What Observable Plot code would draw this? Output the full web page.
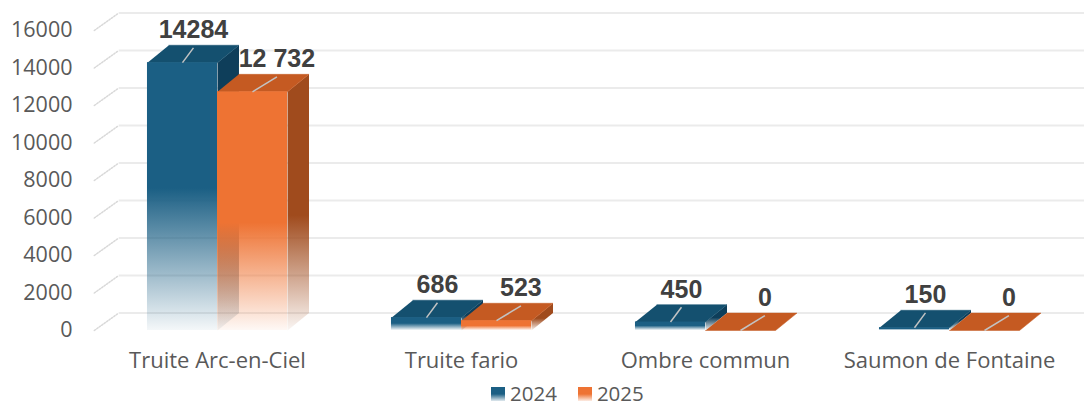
<!DOCTYPE html>
<html><head><meta charset="utf-8">
<script src="https://cdn.jsdelivr.net/npm/d3@7"></script>
<script src="https://cdn.jsdelivr.net/npm/@observablehq/plot@0.6"></script>
<style>
body{margin:0;background:#fff;}
#chart{position:relative;width:1084px;height:408px;font-family:"Open Sans",sans-serif;}
#legend{position:absolute;left:491px;top:380px;display:flex;align-items:center;font-size:20.5px;line-height:1.3;color:#595959;}
#legend .sw{width:14px;height:14px;margin-right:5px;margin-top:2px;}
#legend .it{display:flex;align-items:center;margin-right:21px;}
</style></head><body><div id="chart"></div>
<script>
// ---- data ----
const categories = ["Truite Arc-en-Ciel", "Truite fario", "Ombre commun", "Saumon de Fontaine"];
const series = ["2024", "2025"];
const values2024 = [14284, 686, 450, 150];
const values2025 = [12732, 523, 0, 0];
const labels2024 = ["14284", "686", "450", "150"];
const labels2025 = ["12 732", "523", "0", "0"];
const yTicks = [0, 2000, 4000, 6000, 8000, 10000, 12000, 14000, 16000];

// ---- geometry (in data units) ----
const W = 0.287, DX = 0.088, DY = 930;
const colors = {
  "2024": {front: "#1b5f84", top: "#14506f", side: "#0e3e5a", lab: 0.045},
  "2025": {front: "#ee7333", top: "#c55a22", side: "#a04b1d", lab: 0.1}
};

const bars = [];
categories.forEach((c, i) => {
  [values2024[i], values2025[i]].forEach((v, s) => {
    const x1 = i - W + s * W, x2 = x1 + W;
    bars.push({cat: c, i, s: series[s], v, x1, x2, xc: (x1 + x2) / 2,
      label: s === 0 ? labels2024[i] : labels2025[i]});
  });
});
function poly(b, kind) {
  const {x1, x2, v} = b;
  const pts = kind === "side"
    ? [[x2, 0], [x2, v], [x2 + DX, v + DY], [x2 + DX, DY]]
    : [[x1, v], [x2, v], [x2 + DX, v + DY], [x1 + DX, v + DY]];
  return pts.map(([x, y]) => ({x, y, id: b.cat + b.s + kind}));
}
const grid = yTicks.flatMap(t => [
  {x: -0.505, y: t, id: t}, {x: -0.505 + 0.1, y: t + DY, id: t}
]);
const gridH = yTicks.map(t => ({x1: -0.405, x2: 3.56, y: t + DY}));

const marks = [
  Plot.line(grid, {x: "x", y: "y", z: "id", stroke: "#d9d9d9", strokeWidth: 1.5, strokeDasharray: "1.5,1.5"}),
  Plot.link(gridH, {x1: "x1", x2: "x2", y1: "y", y2: "y", stroke: "#ebebeb", strokeWidth: 2})
];
for (const s of series) {
  const sb = bars.filter(b => b.s === s);
  const col = colors[s];
  marks.push(
    Plot.line(sb.filter(b => b.v > 0).flatMap(b => poly(b, "side")), {x: "x", y: "y", z: "id", fill: `url(#side${s})`, stroke: "none"}),
    Plot.line(sb.flatMap(b => poly(b, "top")), {x: "x", y: "y", z: "id", fill: col.top, stroke: col.top, strokeWidth: 0.5}),
    Plot.rect(sb.filter(b => b.v > 0), {x1: "x1", x2: "x2", y1: 0, y2: "v", fill: `url(#front${s})`})
  );
}
marks.push(
  Plot.link(bars, {x1: "xc", y1: "v", x2: b => b.xc + colors[b.s].lab, y2: b => b.v + DY * 0.85, stroke: "#c3c3c3", strokeWidth: 1.5}),
  Plot.text(bars, {x: b => b.xc + colors[b.s].lab, y: b => b.v + DY, text: "label", lineAnchor: "bottom", dy: -7,
    fontSize: 25, fontWeight: "bold", fill: "#404040", fontFamily: "'Liberation Sans', Arial, sans-serif"})
);

const chart = Plot.plot({
  width: 1084, height: 380,
  marginLeft: 95, marginRight: 13, marginTop: 30, marginBottom: 50,
  style: {fontFamily: "'Open Sans', sans-serif", background: "#fff", overflow: "visible"},
  x: {domain: [-0.5, 3.5], axis: null},
  y: {domain: [0, 16000], axis: null},
  marks: [
    ...marks,
    Plot.axisY(yTicks, {tickSize: 0, tickPadding: 23, fontSize: 21.5, fill: "#595959", tickFormat: d => String(d), label: null}),
    Plot.axisX([0, 1, 2, 3], {tickSize: 0, tickPadding: 22, fontSize: 22, fill: "#595959", tickFormat: i => categories[i], label: null})
  ]
});
// gradient definitions
const ns = "http://www.w3.org/2000/svg";
const defs = document.createElementNS(ns, "defs");
function grad(id, color, start) {
  const g = document.createElementNS(ns, "linearGradient");
  g.setAttribute("id", id); g.setAttribute("x1", 0); g.setAttribute("x2", 0); g.setAttribute("y1", 0); g.setAttribute("y2", 1);
  [[0, 1], [start, 1], [1, 0.05]].forEach(([o, a]) => {
    const st = document.createElementNS(ns, "stop");
    st.setAttribute("offset", o); st.setAttribute("stop-color", color); st.setAttribute("stop-opacity", a);
    g.appendChild(st);
  });
  defs.appendChild(g);
}
grad("front2024", colors["2024"].front, 0.47);
grad("front2025", colors["2025"].front, 0.55);
grad("side2024", colors["2024"].side, 0.5);
grad("side2025", colors["2025"].side, 0.55);
chart.insertBefore(defs, chart.firstChild);
const root = document.getElementById("chart");
root.appendChild(chart);
const leg = document.createElement("div");
leg.id = "legend";
leg.innerHTML = series.map(s => `<div class="it"><div class="sw" style="background:linear-gradient(${colors[s].front} 50%, ${colors[s].front}22)"></div>${s}</div>`).join("");
root.appendChild(leg);
</script></body></html>
